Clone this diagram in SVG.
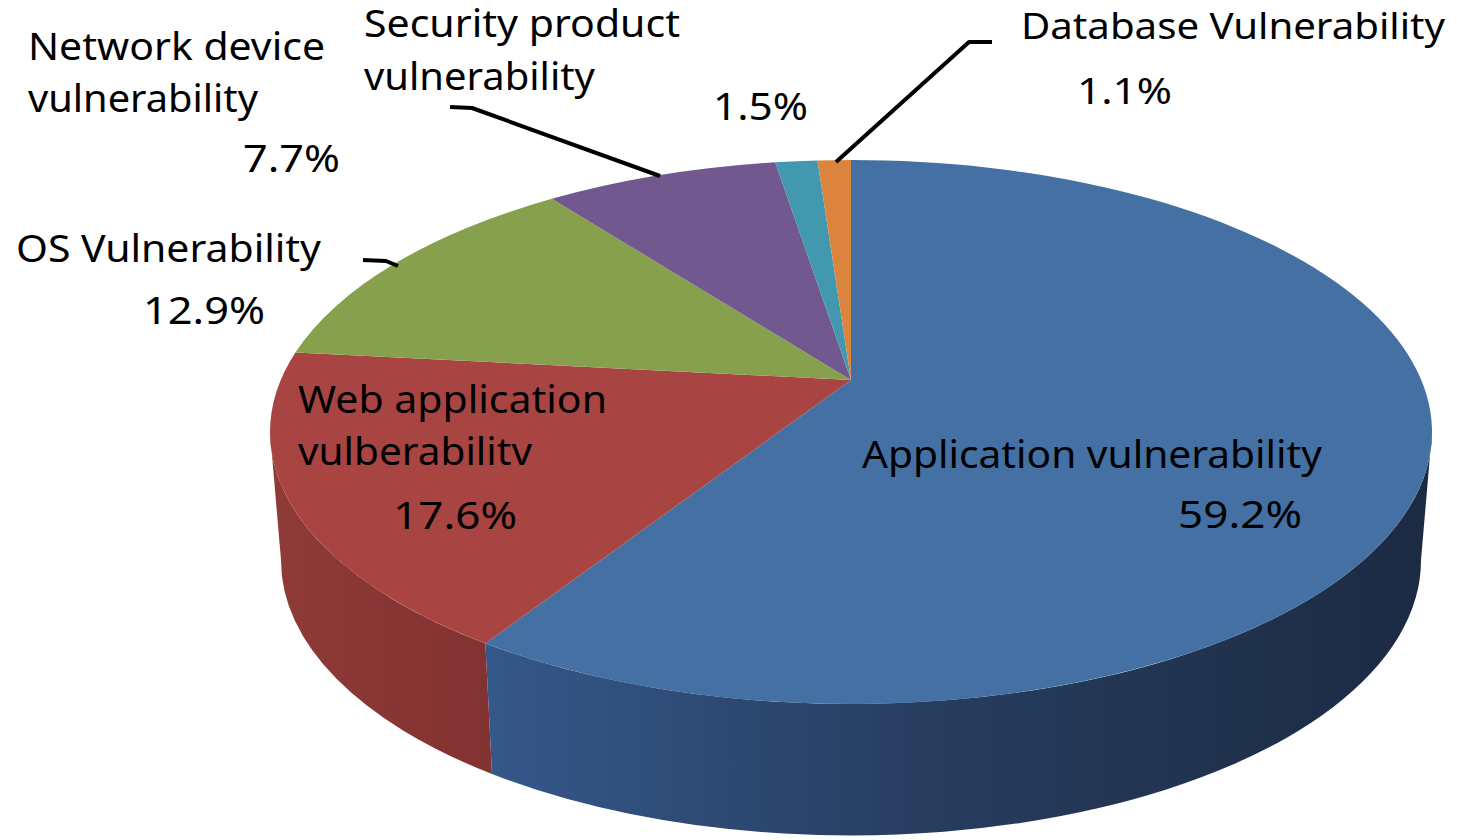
<svg xmlns="http://www.w3.org/2000/svg" width="1457" height="840" viewBox="0 0 1457 840">
<style>
  text { font-family: "Noto Sans", "Open Sans", "DejaVu Sans", sans-serif; fill: #000; }
  .l40 { font-size: 39px; }
  .l36 { font-size: 36px; }
  .lead { fill: none; stroke: #000; stroke-width: 4; stroke-linejoin: round; stroke-linecap: butt; }
</style>
<defs>
  <linearGradient id="gRedSide" gradientUnits="userSpaceOnUse" x1="270" y1="0" x2="492" y2="0">
    <stop offset="0" stop-color="#8f3b38"/>
    <stop offset="1" stop-color="#823230"/>
  </linearGradient>
  <linearGradient id="gBlueSide" gradientUnits="userSpaceOnUse" x1="485" y1="0" x2="1432" y2="0">
    <stop offset="0" stop-color="#35588a"/>
    <stop offset="0.45" stop-color="#273e60"/>
    <stop offset="1" stop-color="#1c2a42"/>
  </linearGradient>
</defs>
<rect width="1457" height="840" fill="#ffffff"/>

<g id="application-vulnerability">
  <path d="M485.4,643.4 A581,272 0 0 0 1432,432 L1421,560 A570,275 0 0 1 492,774 Z" fill="url(#gBlueSide)"/>
  <path d="M851,380 L851,160 A581,272 0 1 1 485.4,643.4 Z" fill="#4470a3"/>
  <text class="l40" x="862" y="468" textLength="460" lengthAdjust="spacingAndGlyphs">Application vulnerability</text>
  <text class="l40" x="1178" y="528" textLength="124" lengthAdjust="spacingAndGlyphs">59.2%</text>
</g>

<g id="web-application-vulnerability">
  <path d="M270,432 A581,272 0 0 0 485.4,643.4 L492,774 A570,275 0 0 1 281,560 Z" fill="url(#gRedSide)"/>
  <path d="M851,380 L485.4,643.4 A581,272 0 0 1 295.4,352.5 Z" fill="#a84442"/>
  <text class="l40" x="298" y="413" textLength="309" lengthAdjust="spacingAndGlyphs">Web application</text>
  <text class="l40" x="298" y="465" textLength="234" lengthAdjust="spacingAndGlyphs">vulberabilitv</text>
  <text class="l40" x="393" y="529" textLength="124" lengthAdjust="spacingAndGlyphs">17.6%</text>
</g>

<g id="os-vulnerability">
  <path d="M851,380 L295.4,352.5 A581,272 0 0 1 551.8,198.8 Z" fill="#87a04d"/>
  <text class="l40" x="16" y="262" textLength="305" lengthAdjust="spacingAndGlyphs">OS Vulnerability</text>
  <text class="l40" x="143" y="324" textLength="122" lengthAdjust="spacingAndGlyphs">12.9%</text>
</g>

<g id="network-device-vulnerability">
  <path d="M851,380 L551.8,198.8 A581,272 0 0 1 775.2,162.3 Z" fill="#71588f"/>
  <text class="l40" x="28" y="60" textLength="297" lengthAdjust="spacingAndGlyphs">Network device</text>
  <text class="l40" x="28" y="112" textLength="230" lengthAdjust="spacingAndGlyphs">vulnerability</text>
  <text class="l40" x="243" y="172" textLength="97" lengthAdjust="spacingAndGlyphs">7.7%</text>
</g>

<g id="security-product-vulnerability">
  <path d="M851,380 L775.2,162.3 A581,272 0 0 1 817.5,160.5 Z" fill="#4198af"/>
  <text class="l40" x="364" y="37" textLength="316" lengthAdjust="spacingAndGlyphs">Security product</text>
  <text class="l40" x="364" y="90" textLength="231" lengthAdjust="spacingAndGlyphs">vulnerability</text>
  <text class="l40" x="713" y="120" textLength="95" lengthAdjust="spacingAndGlyphs">1.5%</text>
</g>

<g id="database-vulnerability">
  <path d="M851,380 L817.5,160.5 A581,272 0 0 1 851,160 Z" fill="#db843d"/>
  <text class="l36" x="1021" y="39" textLength="424" lengthAdjust="spacingAndGlyphs">Database Vulnerability</text>
  <text class="l36" x="1077" y="104" textLength="95" lengthAdjust="spacingAndGlyphs">1.1%</text>
</g>

<g id="connectors">
  <path class="lead" d="M450,107 L472,108 L660,176"/>
  <path class="lead" d="M363,260 L386,261 L398,266"/>
  <path class="lead" d="M992,42 L969,42 L836,162"/>
</g>
</svg>
